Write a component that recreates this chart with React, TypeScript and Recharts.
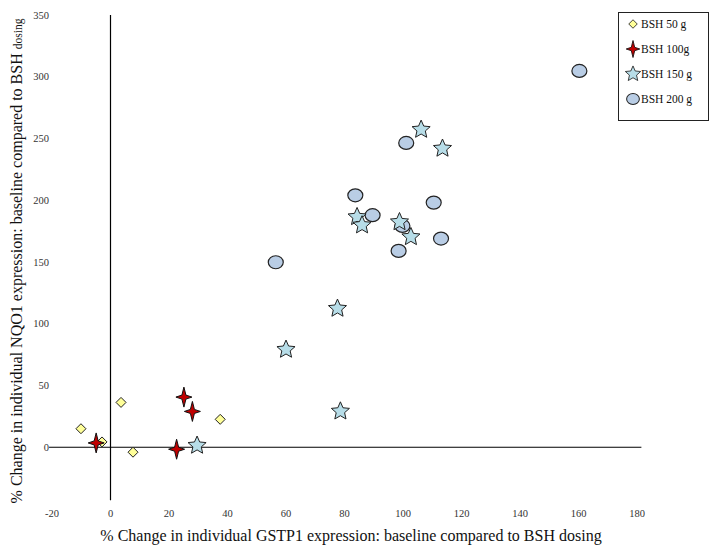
import React from 'react';
import {
  ScatterChart, Scatter, XAxis, YAxis, ReferenceLine,
} from 'recharts';

const FONT = '"Liberation Serif", "Times New Roman", serif';

const xTicks = [-20, 0, 20, 40, 60, 80, 100, 120, 140, 160, 180];
const yTicks = [0, 50, 100, 150, 200, 250, 300, 350];

// BSH 50 g
const bsh50X = [-10.1, -2.9, 3.6, 7.7, 37.5];
const bsh50Y = [15, 4.3, 36.3, -4, 22.6];
// BSH 100g
const bsh100X = [-4.9, 25.1, 28.0, 22.6];
const bsh100Y = [3.5, 40.6, 29, -1.6];
// BSH 150 g
const bsh150X = [29.6, 60.0, 77.6, 78.6, 84.3, 86.0, 98.8, 102.7, 106.2, 113.5];
const bsh150Y = [1.4, 79.1, 112.3, 29.1, 186.5, 179.8, 182.4, 170.3, 257.2, 241.9];
// BSH 200 g
const bsh200X = [56.5, 83.7, 89.6, 98.5, 99.8, 101.1, 110.5, 113.0, 160.3];
const bsh200Y = [149.8, 204, 187.9, 159, 179.2, 246.4, 198.1, 169, 304.7];

const zip = (xs: number[], ys: number[]) => xs.map((x, i) => ({ x, y: ys[i] }));

const starPoints = (cx: number, cy: number, outer: number, inner: number, n: number) => {
  const pts: string[] = [];
  for (let i = 0; i < n * 2; i++) {
    const r = i % 2 === 0 ? outer : inner;
    const a = -Math.PI / 2 + (i * Math.PI) / n;
    pts.push(`${cx + r * Math.cos(a)},${cy + r * Math.sin(a)}`);
  }
  return pts.join(' ');
};

const Diamond = ({ cx, cy }: any) => (
  <polygon
    points={`${cx},${cy - 5} ${cx + 5},${cy} ${cx},${cy + 5} ${cx - 5},${cy}`}
    fill="#ffff99" stroke="#222" strokeWidth={1}
  />
);

const RedStar = ({ cx, cy }: any) => (
  <polygon
    points={`${cx},${cy - 10} ${cx + 2},${cy - 2} ${cx + 8},${cy} ${cx + 2},${cy + 2} ${cx},${cy + 10} ${cx - 2},${cy + 2} ${cx - 8},${cy} ${cx - 2},${cy - 2}`}
    fill="#c00000" stroke="#111" strokeWidth={1}
  />
);

const BlueStar = ({ cx, cy }: any) => (
  <polygon points={starPoints(cx, cy, 9.5, 4.4, 5)} fill="#b7dde8" stroke="#222" strokeWidth={1} />
);

const Oval = ({ cx, cy }: any) => (
  <ellipse cx={cx} cy={cy} rx={7.5} ry={6.5} fill="#b9cde5" stroke="#222" strokeWidth={1.2} />
);

const LEGEND_ITEMS = [
  { name: 'BSH 50 g', Shape: Diamond },
  { name: 'BSH 100g', Shape: RedStar },
  { name: 'BSH 150 g', Shape: BlueStar },
  { name: 'BSH 200 g', Shape: Oval },
];

function LegendBox() {
  return (
    <svg width={91} height={109} style={{ position: 'absolute', left: 618, top: 12 }}>
      <rect x={0.5} y={0.5} width={90} height={108} fill="#fff" stroke="#222" strokeWidth={1} />
      {LEGEND_ITEMS.map((it, i) => (
        <g key={it.name}>
          <g transform={`translate(15 ${12 + i * 25}) scale(0.85)`}>
            <it.Shape cx={0} cy={0} />
          </g>
          <text x={23} y={12 + i * 25} dy="0.35em" fontSize={11.5} fontFamily={FONT} fill="#111">
            {it.name}
          </text>
        </g>
      ))}
    </svg>
  );
}

export default function App() {
  return (
    <div style={{ position: 'absolute', left: 0, top: 0, width: 713, height: 550, background: '#fff' }}>
      <ScatterChart width={713} height={550} margin={{ top: 15, right: 76, bottom: 0, left: 0 }}>
        <XAxis
          type="number" dataKey="x" domain={[-20, 180]} ticks={xTicks} height={41}
          axisLine={false} tickLine={false} tickSize={0} tickMargin={1}
          tick={{ fill: '#333', fontSize: 10.5, fontFamily: FONT }}
          interval={0}
        />
        <YAxis
          type="number" dataKey="y" domain={[-50, 350]} ticks={yTicks} width={52}
          axisLine={false} tickLine={false} tickSize={0} tickMargin={3}
          tick={{ fill: '#333', fontSize: 10.5, fontFamily: FONT }}
          interval={0}
        />
        <ReferenceLine
          segment={[{ x: 0, y: -43 }, { x: 0, y: 350 }]}
          stroke="#000" strokeWidth={1.2} ifOverflow="visible"
        />
        <ReferenceLine
          segment={[{ x: -21, y: 0 }, { x: 181.5, y: 0 }]}
          stroke="#000" strokeWidth={1.2} ifOverflow="visible"
        />
        <Scatter name="BSH 50 g" data={zip(bsh50X, bsh50Y)} shape={Diamond} isAnimationActive={false} />
        <Scatter name="BSH 100g" data={zip(bsh100X, bsh100Y)} shape={RedStar} isAnimationActive={false} />
        <Scatter name="BSH 200 g" data={zip(bsh200X, bsh200Y)} shape={Oval} isAnimationActive={false} />
        <Scatter name="BSH 150 g" data={zip(bsh150X, bsh150Y)} shape={BlueStar} isAnimationActive={false} />
        <text x={351} y={541} textAnchor="middle" fontSize={16} fontFamily={FONT} fill="#111">
          % Change in individual GSTP1 expression: baseline compared to BSH dosing
        </text>
        <text
          x={22} y={261} textAnchor="middle" fontSize={16} fontFamily={FONT} fill="#111"
          transform="rotate(-90 22 261)"
        >
          % Change in individual NQO1 expression: baseline compared to BSH{' '}
          <tspan fontSize={11.5}>dosing</tspan>
        </text>
      </ScatterChart>
      <LegendBox />
    </div>
  );
}
